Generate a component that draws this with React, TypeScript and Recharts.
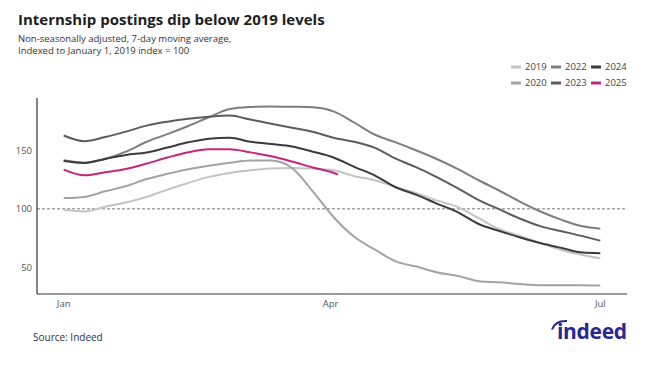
import React from "react";
import { LineChart, Line, XAxis, YAxis, ReferenceLine } from "recharts";

const days = [0, 7, 14, 21, 28, 35, 42, 49, 56, 63, 70, 77, 84, 91, 98, 105, 112, 119, 126, 133, 140, 147, 154, 161, 168, 175, 181];
const v2019 = [99, 97.8, 101.8, 105.5, 110.2, 116.5, 122.2, 127.4, 130.8, 133, 134.5, 135, 134.5, 133, 128, 124.5, 118.5, 113.5, 107, 101.5, 92, 82.5, 76.5, 70.5, 64.5, 60.5, 57.5];
const v2020 = [109.2, 110.2, 115, 119.5, 125.5, 130, 134, 137, 139.5, 141.5, 141.4, 135, 115, 93, 76, 65, 55, 50.5, 45.5, 42.5, 38, 37, 35.5, 34.5, 34.5, 34.5, 34.2];
const v2022 = [141.6, 139.6, 142.9, 149, 157.5, 164, 171, 178.5, 185.5, 187.3, 187.8, 187.5, 187, 183.5, 174, 163.5, 157, 150, 142.5, 134, 124.5, 115.5, 106, 97.5, 90.5, 85, 83];
const v2023 = [162.9, 158, 161.6, 166.2, 171.3, 174.7, 177.3, 179, 180, 176.5, 173, 169.5, 166, 161, 157.5, 152.3, 143, 135.5, 127, 117.5, 107.5, 99.5, 91.5, 85, 80.8, 76.6, 72.7];
const v2024 = [141, 139.3, 142.8, 146.2, 148.3, 152.5, 157, 160.1, 160.9, 157.5, 155.5, 153.5, 149, 144, 136, 128.5, 118.5, 112, 104.3, 97, 87, 81, 75.5, 70.5, 66.5, 62.5, 62];
const days2025 = [0, 7, 14, 21, 28, 35, 42, 49, 56, 63, 70, 77, 84, 91, 92.5];
const v2025 = [133.6, 128.7, 131.3, 134.2, 138.8, 144, 148.5, 151, 151.1, 148.4, 145, 140.5, 135.5, 130.9, 129.3];

const xTicks = [0, 90, 181];
const xTickLabels = ["Jan", "Apr", "Jul"];
const yTicks = [50, 100, 150];

const seriesNames = ["2019", "2020", "2022", "2023", "2024", "2025"];
const colors: Record<string, string> = {
  "2019": "#c4c4c4",
  "2020": "#a3a3a3",
  "2022": "#7e7e7e",
  "2023": "#5c5c5c",
  "2024": "#3b3b3b",
  "2025": "#c4267f",
};

const toRows = (d: number[], v: number[]) => d.map((day, i) => ({ day, v: v[i] }));

const seriesData: Record<string, { day: number; v: number }[]> = {
  "2019": toRows(days, v2019),
  "2020": toRows(days, v2020),
  "2022": toRows(days, v2022),
  "2023": toRows(days, v2023),
  "2024": toRows(days, v2024),
  "2025": toRows(days2025, v2025),
};

const legendLayout = [
  { name: "2019", x: 511, y: 67 },
  { name: "2022", x: 551, y: 67 },
  { name: "2024", x: 591, y: 67 },
  { name: "2020", x: 511, y: 83 },
  { name: "2023", x: 551, y: 83 },
  { name: "2025", x: 591, y: 83 },
];

const FONT = "'Open Sans', 'Noto Sans', sans-serif";

export default function App() {
  return (
    <div style={{ position: "absolute", left: 0, top: 0, width: 656, height: 373, background: "#fff", fontFamily: FONT }}>
      <div style={{ position: "absolute", left: 0, top: 0 }}>
        <LineChart width={656} height={373} margin={{ top: 98, right: 29, bottom: 49, left: 7 }}>
          <XAxis
            type="number"
            dataKey="day"
            domain={[-9, 190]}
            ticks={xTicks}
            tickFormatter={(d: number) => xTickLabels[xTicks.indexOf(d)] ?? ""}
            axisLine={{ stroke: "#333", strokeWidth: 1.2 }}
            tickLine={false}
            tickSize={4}
            height={30}
            tick={{ fontSize: 9.5, fill: "#555", fontFamily: FONT }}
            allowDataOverflow
          />
          <YAxis
            type="number"
            domain={[27, 195]}
            ticks={yTicks}
            axisLine={{ stroke: "#333", strokeWidth: 1.2 }}
            tickLine={false}
            tickSize={3}
            width={30}
            tick={{ fontSize: 9.5, fill: "#555", fontFamily: FONT }}
            allowDataOverflow
          />
          <ReferenceLine y={100} stroke="#777" strokeDasharray="3 2" strokeWidth={1} />
          {seriesNames.map((n) => (
            <Line
              key={n}
              data={seriesData[n]}
              dataKey="v"
              type="monotone"
              stroke={colors[n]}
              strokeWidth={2}
              dot={false}
              activeDot={false}
              isAnimationActive={false}
            />
          ))}
        </LineChart>
      </div>
      <svg width={656} height={373} style={{ position: "absolute", left: 0, top: 0, pointerEvents: "none" }}>
        <text x={18} y={25} fontSize={15} fontWeight={700} fill="#1e1e1e" fontFamily={FONT}>
          Internship postings dip below 2019 levels
        </text>
        <text x={18} y={42} fontSize={9.5} fill="#333" fontFamily={FONT}>
          Non-seasonally adjusted, 7-day moving average,
        </text>
        <text x={18} y={54} fontSize={9.5} fill="#333" fontFamily={FONT}>
          Indexed to January 1, 2019 index = 100
        </text>
        {legendLayout.map((l) => (
          <g key={l.name}>
            <rect x={l.x} y={l.y - 1.5} width={10} height={3} fill={colors[l.name]} />
            <text x={l.x + 14} y={l.y + 3.4} fontSize={9.5} fill="#444" fontFamily={FONT}>
              {l.name}
            </text>
          </g>
        ))}
        <text x={33} y={341} fontSize={10} fill="#333" fontFamily={FONT}>
          Source: Indeed
        </text>
        <text x={557} y={339} fontSize={21} fontWeight={700} fill="#2a2790" fontFamily={FONT} letterSpacing={-0.3}>
          indeed
        </text>
        <path d="M 552 329.5 Q 555 320.5 567 321" stroke="#2a2790" strokeWidth={2} fill="none" />
      </svg>
    </div>
  );
}
